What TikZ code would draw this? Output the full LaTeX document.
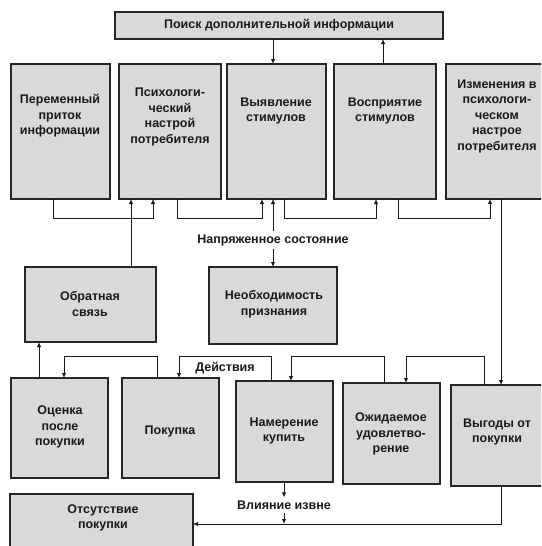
\documentclass[tikz,border=0pt]{standalone}
\usepackage{fontspec}
\setmainfont{Liberation Sans}
\usetikzlibrary{arrows.meta}
\begin{document}
\begin{tikzpicture}[x=1pt,y=-1pt,
 box/.style={draw=black!85, line width=1.1pt, fill=black!15, rectangle, inner sep=0pt, outer sep=0pt, anchor=north west},
 txt/.style={font=\bfseries\fontsize{12.5}{15.5}\selectfont, align=center, inner sep=0pt, text=black!90},
 lbl/.style={txt, inner sep=3pt},
 arr/.style={line width=0.9pt, draw=black!90, -{Latex[length=5pt,width=4.5pt]}}]
\useasboundingbox (0,0) rectangle (541,546);
\fill[white] (0,0) rectangle (541,546);
\clip (0,0) rectangle (541,546);
% boxes
\node[box,minimum width=328pt,minimum height=27pt] (P) at (115,12) {};
\node[box,minimum width=99pt,minimum height=135pt] (b1) at (11,64) {};
\node[box,minimum width=102pt,minimum height=135pt] (b2) at (119,64) {};
\node[box,minimum width=99pt,minimum height=135pt] (b3) at (227,64) {};
\node[box,minimum width=102pt,minimum height=135pt] (b4) at (334,64) {};
\node[box,minimum width=104pt,minimum height=135pt] (b5) at (446,64) {};
\node[box,minimum width=131pt,minimum height=75pt] (fb) at (25,267) {};
\node[box,minimum width=128pt,minimum height=77pt] (need) at (209,267) {};
\node[box,minimum width=97pt,minimum height=100pt] (c1) at (11,378) {};
\node[box,minimum width=97pt,minimum height=100pt] (c2) at (122,378) {};
\node[box,minimum width=97pt,minimum height=101pt] (c3) at (236,381) {};
\node[box,minimum width=97pt,minimum height=101pt] (c4) at (343,383) {};
\node[box,minimum width=100pt,minimum height=101pt] (c5) at (451,385) {};
\node[box,minimum width=183pt,minimum height=60pt] (no) at (10,494) {};
% texts
\node[txt] (tP) at (279,25.5) {Поиск дополнительной информации};
\node[txt] (t1) at (60,116) {Переменный\\приток\\информации};
\node[txt] (t2) at (170,117) {Психологи-\\ческий\\настрой\\потребителя};
\node[txt] (t3) at (276,111) {Выявление\\стимулов};
\node[txt] (t4) at (385,111) {Восприятие\\стимулов};
\node[txt] (t5) at (497,116) {Изменения в\\психологи-\\ческом\\настрое\\потребителя};
\node[txt] (tfb) at (90,304) {Обратная\\связь};
\node[txt] (tneed) at (274,304) {Необходимость\\признания};
\node[txt] (tc1) at (60,427) {Оценка\\после\\покупки};
\node[txt] (tc2) at (170,431) {Покупка};
\node[txt] (tc3) at (284,431) {Намерение\\купить};
\node[txt] (tc4) at (391,434) {Ожидаемое\\удовлетво-\\рение};
\node[txt] (tc5) at (497,432) {Выгоды от\\покупки};
\node[txt] (tno) at (103,518) {Отсутствие\\покупки};
\node[txt] (act) at (225,368) {Действия};
\node[lbl] (ns) at (273,240) {Напряженное состояние};
\node[lbl] (vl) at (284,505) {Влияние извне};
% connectors
\draw[arr] ([xshift=158pt]P.south west) -- ([xshift=46pt]b3.north west);
\draw[arr] ([xshift=49pt]b4.north west) -- ([xshift=268pt]P.south west);
\draw[arr] ([xshift=42pt]b1.south west) -- ++(0,19) -| ([xshift=34pt]b2.south west);
\draw[arr] ([xshift=106pt]fb.north west) -- ([xshift=12pt]b2.south west);
\draw[arr] ([xshift=58pt]b2.south west) -- ++(0,19) -| ([xshift=35pt]b3.south west);
\draw[arr] (ns.north) -- ([xshift=46pt]b3.south west);
\draw[arr] (ns.south) -- ([xshift=64pt]need.north west);
\draw[arr] ([xshift=57pt]b3.south west) -- ++(0,19) -| ([xshift=42pt]b4.south west);
\draw[arr] ([xshift=64pt]b4.south west) -- ++(0,19) -| ([xshift=44pt]b5.south west);
\draw[arr] ([xshift=55pt]b5.south west) -- ([xshift=50pt]c5.north west);
\draw[arr] ([xshift=28pt]c1.north west) -- ([xshift=14pt]fb.south west);
\draw[arr] ([xshift=35pt]c2.north west) -- ++(0,-22) -| ([xshift=53pt]c1.north west);
\draw[arr] ([xshift=35pt]c3.north west) -- ++(0,-25) -| ([xshift=57pt]c2.north west);
\draw[arr] ([xshift=41pt]c4.north west) -- ++(0,-27) -| ([xshift=55pt]c3.north west);
\draw[arr] ([xshift=33pt]c5.north west) -- ++(0,-29) -| ([xshift=63pt]c4.north west);
\draw[arr] ([xshift=48pt]c3.south west) -- (vl.north);
\coordinate (j) at (vl |- no.east);
\draw[arr] (vl.south) -- (j);
\draw[arr] ([xshift=50pt]c5.south west) |- (no.east);
\end{tikzpicture}
\end{document}
